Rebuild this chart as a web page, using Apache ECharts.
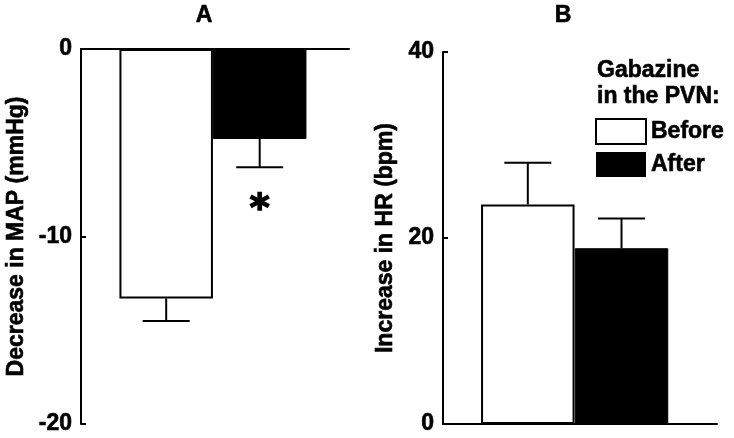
<!DOCTYPE html>
<html>
<head>
<meta charset="utf-8">
<script src="https://cdn.jsdelivr.net/npm/echarts@6/dist/echarts.min.js"></script>
<style>html,body{margin:0;padding:0;background:#fff;}#c{width:734px;height:438px;}</style>
</head>
<body>
<div id="c"></div>
<script>
// ---- data ----
const groups = ['Before', 'After'];
const mapMean = [-13.3, -4.8];   // Decrease in MAP (mmHg)
const mapSem = [1.2, 1.5];
const mapSig = ['', '*'];
const hrMean = [23.6, 18.9];     // Increase in HR (bpm)
const hrSem = [4.5, 3.2];
const hrSig = ['', ''];
const mapTicks = [-20, -10, 0];
const hrTicks = [0, 20, 40];
const panelTitles = ['A', 'B'];
const legendTitle = 'Gabazine\nin the PVN:';

const FONT = "'Liberation Sans', Arial, Helvetica, sans-serif";
const heavy = { textBorderColor: '#000', textBorderWidth: 0.6 };

function barSeries(name, idx, means, axisIdx) {
  return {
    name: name, type: 'bar',
    xAxisIndex: axisIdx, yAxisIndex: axisIdx,
    barWidth: 93.5, barGap: '-100%',
    data: [[idx, means[idx]]],
    itemStyle: name === 'Before'
      ? { color: '#fff', borderColor: '#000', borderWidth: 2 }
      : { color: '#000', borderColor: '#000', borderWidth: 1 },
    z: 2
  };
}

function errSeries(means, sems, sigs, axisIdx) {
  return {
    type: 'custom',
    xAxisIndex: axisIdx, yAxisIndex: axisIdx,
    data: means.map((m, i) => [i, m, sems[i]]),
    encode: { x: 0, y: 1 },
    z: 5,
    silent: true,
    clip: false,
    renderItem: function (params, api) {
      const x = api.value(0), m = api.value(1), s = api.value(2);
      const dir = m < 0 ? -1 : 1;
      const p0 = api.coord([x, m]);
      const p1 = api.coord([x, m + dir * s]);
      const children = [
        { type: 'line', shape: { x1: p0[0], y1: p0[1], x2: p1[0], y2: p1[1] }, style: { stroke: '#000', lineWidth: 2 } },
        { type: 'line', shape: { x1: p1[0] - 23.5, y1: p1[1], x2: p1[0] + 23.5, y2: p1[1] }, style: { stroke: '#000', lineWidth: 2 } }
      ];
      const sig = sigs[params.dataIndex];
      if (sig) {
        children.push({ type: 'text', style: { text: sig, x: p1[0], y: p1[1] + 43, align: 'center', verticalAlign: 'middle', font: "bold 38px 'DejaVu Sans'", fill: '#000', stroke: '#000', lineWidth: 1.6 } });
      }
      return { type: 'group', children: children };
    }
  };
}

const yAxisCommon = {
  type: 'value',
  splitLine: { show: false },
  axisLine: { show: true, onZero: false, lineStyle: { color: '#000', width: 2 } },
  axisTick: { show: true, inside: true, length: 5, lineStyle: { color: '#000', width: 2 } },
  axisLabel: Object.assign({ color: '#000', fontSize: 23, fontWeight: 'bold', fontFamily: FONT, margin: 9 }, heavy),
  nameLocation: 'middle',
  nameTextStyle: Object.assign({ color: '#000', fontSize: 23, fontWeight: 'bold', fontFamily: FONT }, heavy)
};
const xAxisCommon = {
  type: 'value',
  axisLine: { show: true, onZero: false, lineStyle: { color: '#000', width: 2 } },
  axisTick: { show: false },
  axisLabel: { show: false },
  splitLine: { show: false }
};
const titleStyle = Object.assign({ fontSize: 23, fontWeight: 'bold', fontFamily: FONT, color: '#000' }, heavy);

const option = {
  animation: false,
  backgroundColor: '#fff',
  title: [
    { text: panelTitles[0], left: 204, top: 4, textAlign: 'center', padding: 0, textStyle: titleStyle },
    { text: panelTitles[1], left: 563, top: 4, textAlign: 'center', padding: 0, textStyle: titleStyle },
    { text: legendTitle, left: 597, top: 57, padding: 0, textStyle: Object.assign({}, titleStyle, { lineHeight: 26.7 }) }
  ],
  legend: {
    orient: 'vertical', left: 590, top: 113,
    icon: 'rect', itemWidth: 50, itemHeight: 25, itemGap: 7,
    selectedMode: false,
    textStyle: Object.assign({ fontSize: 23, fontWeight: 'bold', fontFamily: FONT, color: '#000' }, heavy),
    data: [
      { name: groups[0], itemStyle: { color: '#fff', borderColor: '#000', borderWidth: 2 } },
      { name: groups[1], itemStyle: { color: '#000', borderColor: '#000', borderWidth: 0 } }
    ]
  },
  grid: [
    { left: 81, top: 49, width: 268, bottom: 14 },
    { left: 443, top: 52, width: 274, bottom: 14 }
  ],
  xAxis: [
    Object.assign({}, xAxisCommon, { gridIndex: 0, position: 'top', min: -0.911, max: 1.955 }),
    Object.assign({}, xAxisCommon, { gridIndex: 1, position: 'bottom', min: -0.905, max: 2.019 })
  ],
  yAxis: [
    Object.assign({}, yAxisCommon, { gridIndex: 0, position: 'left', min: mapTicks[0], max: mapTicks[2], interval: 10, name: 'Decrease in MAP (mmHg)', nameGap: 53 }),
    Object.assign({}, yAxisCommon, { gridIndex: 1, position: 'left', min: hrTicks[0], max: hrTicks[2], interval: 20, name: 'Increase in HR (bpm)', nameGap: 46 })
  ],
  series: [
    barSeries(groups[0], 0, mapMean, 0),
    barSeries(groups[1], 1, mapMean, 0),
    errSeries(mapMean, mapSem, mapSig, 0),
    barSeries(groups[0], 0, hrMean, 1),
    barSeries(groups[1], 1, hrMean, 1),
    errSeries(hrMean, hrSem, hrSig, 1)
  ]
};

const chart = echarts.init(document.getElementById('c'), null, { renderer: 'canvas' });
chart.setOption(option);
</script>
</body>
</html>
